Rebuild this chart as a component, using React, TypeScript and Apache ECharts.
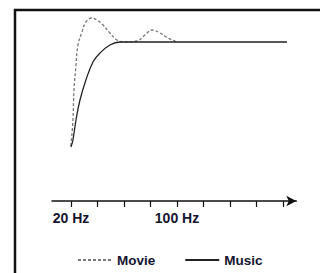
import React, { useEffect, useRef } from "react";
import * as echarts from "echarts";

// Frequency (Hz) and relative level (dB)
const musicHz = [20, 21.5, 23.8, 26.8, 31.3, 36.6, 41.9, 49.4, 57.0, 183];
const musicDb = [-10.5, -9.8, -7.8, -5.8, -3.8, -2.0, -1.1, -0.3, 0, 0];

const movieHz = [20, 21.5, 22.3, 23.8, 25.3, 28.3, 31.3, 35.8, 39.6, 44.2, 49.4, 54.7, 59.2, 69.8, 75.8, 81.1, 87.2, 93.2, 100];
const movieDb = [-10.4, -7.8, -4.8, -2.3, -0.3, 1.0, 2.0, 2.4, 2.2, 1.7, 0.9, 0.2, 0, 0.1, 0.7, 1.2, 0.9, 0.4, 0];

const tickValues = [20, 40, 60, 80, 100, 120, 140, 160, 180];
const labelValues = [20, 100];
const legendNames = ["Movie", "Music"];

const zip = (xs: number[], ys: number[]) => xs.map((x, i) => [x, ys[i]]);

export default function App() {
  const ref = useRef<HTMLDivElement>(null);
  useEffect(() => {
    if (!ref.current) return;
    const chart = echarts.init(ref.current, null, { renderer: "svg" });
    const font = "Liberation Sans, Arial, sans-serif";
    chart.setOption({
      animation: false,
      backgroundColor: "#ffffff",
      grid: { left: 52, right: 23.7, top: 10, bottom: 72 },
      xAxis: {
        type: "value",
        min: 5.7,
        max: 190,
        splitLine: { show: false },
        axisLine: {
          show: true,
          onZero: false,
          lineStyle: { color: "#111", width: 1.5 },
          symbol: ["none", "arrow"],
          symbolSize: [8, 10],
        },
        axisTick: {
          show: true,
          length: 6,
          customValues: tickValues,
          lineStyle: { color: "#111", width: 1.2 },
        },
        axisLabel: {
          show: true,
          customValues: labelValues,
          margin: 10,
          formatter: (v: number) => `${v} Hz`,
          color: "#151530",
          fontFamily: font,
          fontWeight: "bold",
          fontSize: 14,
        },
      },
      yAxis: {
        type: "value",
        min: -15.9,
        max: 3.2,
        show: false,
      },
      legend: {
        data: legendNames,
        left: 77,
        top: 253,
        padding: 0,
        itemWidth: 34,
        itemHeight: 14,
        itemGap: 29,
        itemStyle: { opacity: 0 },
        textStyle: { color: "#151530", fontFamily: font, fontWeight: "bold", fontSize: 13.5 },
      },
      series: [
        {
          name: "Movie",
          type: "line",
          data: zip(movieHz, movieDb),
          symbol: "none",
          smooth: 0.4,
          lineStyle: { color: "#777", width: 1.3, type: [3, 2] },
          itemStyle: { color: "#777" },
          z: 2,
        },
        {
          name: "Music",
          type: "line",
          data: zip(musicHz, musicDb),
          symbol: "none",
          smooth: 0.4,
          lineStyle: { color: "#222", width: 1.3 },
          itemStyle: { color: "#222" },
          z: 3,
        },
      ],
      graphic: [
        {
          type: "rect",
          shape: { x: 15, y: 10, width: 400, height: 400 },
          style: { fill: "none", stroke: "#111", lineWidth: 2.5 },
          silent: true,
        },
      ],
    });
    return () => chart.dispose();
  }, []);
  return (
    <div
      ref={ref}
      style={{ position: "fixed", left: 0, top: 0, width: 320, height: 273 }}
    />
  );
}
